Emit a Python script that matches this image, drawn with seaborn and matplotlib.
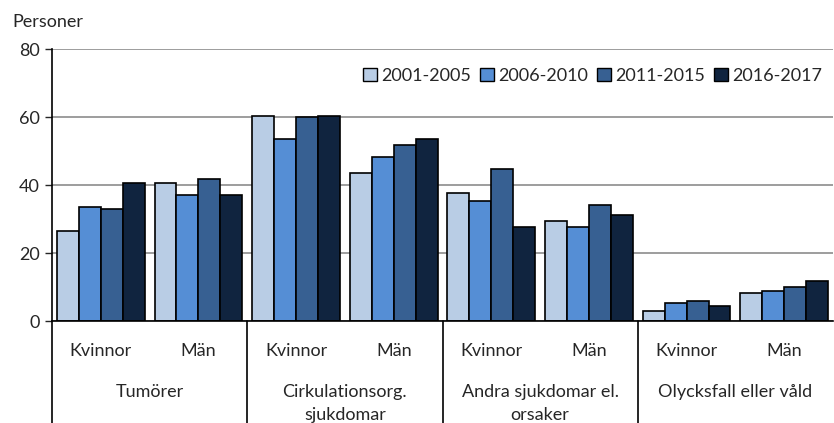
import pandas as pd
import seaborn as sns
import matplotlib.pyplot as plt
from matplotlib.patches import Patch

causes = ["Tumörer", "Cirkulationsorg.\nsjukdomar", "Andra sjukdomar el.\norsaker", "Olycksfall eller våld"]
sexes = ["Kvinnor", "Män"]
periods = ["2001-2005", "2006-2010", "2011-2015", "2016-2017"]
colors = ["#B9CDE5", "#558ED5", "#376092", "#10243F"]

# values per period, order: cause x sex
v2001 = [26.5, 40.6, 60.3, 43.4, 37.6, 29.4, 3.0, 8.3]
v2006 = [33.5, 37.0, 53.5, 48.2, 35.3, 27.7, 5.4, 8.8]
v2011 = [32.8, 41.7, 60.0, 51.8, 44.6, 34.2, 6.0, 10.1]
v2016 = [40.6, 37.0, 60.3, 53.5, 27.7, 31.3, 4.3, 11.9]

groups = [f"{c}|{s}" for c in causes for s in sexes]
rows = []
for p, vals in zip(periods, [v2001, v2006, v2011, v2016]):
    for g, v in zip(groups, vals):
        rows.append({"grupp": g, "period": p, "personer": v})
df = pd.DataFrame(rows)

sns.set_style("white")
plt.rcParams["font.family"] = ["Lato", "DejaVu Sans"]

fig = plt.figure(figsize=(8.34, 4.23), dpi=100)
ax = fig.add_axes([52 / 834, 102 / 423, 781 / 834, 272 / 423])

sns.barplot(data=df, x="grupp", y="personer", hue="period", order=groups,
            hue_order=periods, palette=colors, saturation=1, width=0.9,
            edgecolor="black", linewidth=1.2, ax=ax, legend=False)

ax.set_ylim(0, 80)
ax.set_xlim(-0.5, len(groups) - 0.5)
ax.set_yticks([0, 20, 40, 60, 80])
ax.tick_params(axis="y", labelsize=13, length=5, width=1, direction="out", left=True, pad=4)
ax.set_xticks([])
ax.set_xlabel("")
ax.set_ylabel("")
ax.yaxis.grid(True, color="#8C8C8C", linewidth=1.2)
ax.set_axisbelow(True)
for s in ["top", "right"]:
    ax.spines[s].set_visible(False)
ax.spines["left"].set_color("black")
ax.spines["bottom"].set_color("black")
ax.spines["left"].set_linewidth(1.2)
ax.spines["bottom"].set_linewidth(1.2)

trans = ax.get_xaxis_transform()
for i, g in enumerate(groups):
    ax.text(i, -30 / 272, g.split("|")[1], transform=trans, ha="center", va="center", fontsize=13)
for j, c in enumerate(causes):
    ax.text(2 * j + 0.5, -63 / 272, c, transform=trans, ha="center", va="top",
            fontsize=13, linespacing=1.5)
for k in range(len(causes)):
    ax.plot([2 * k - 0.5] * 2, [0, -110 / 272], transform=trans, color="black",
            linewidth=1.2, clip_on=False)

fig.text(12 / 834, 1 - 22 / 423, "Personer", fontsize=13, va="center")

handles = [Patch(facecolor=c, edgecolor="black", label=p) for p, c in zip(periods, colors)]
ax.legend(handles=handles, loc="upper right", bbox_to_anchor=(1.0, 0.97), ncol=4,
          frameon=False, fontsize=13, handlelength=0.75, handleheight=0.75,
          handletextpad=0.25, columnspacing=0.5, borderaxespad=0.2)

fig.savefig("out.png", dpi=100)
